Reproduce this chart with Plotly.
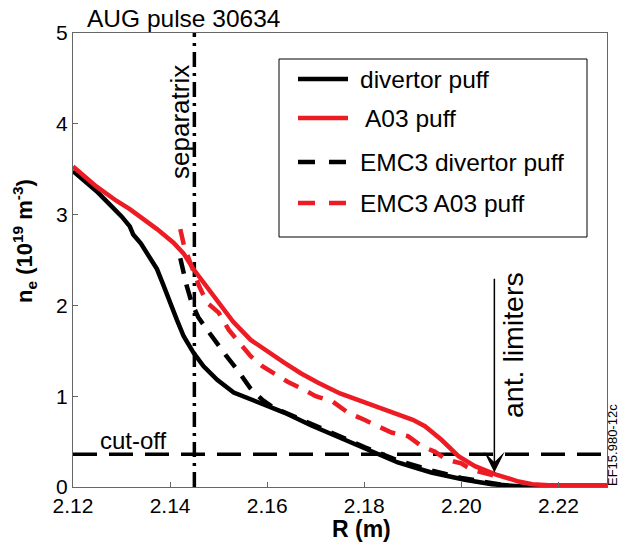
import plotly.graph_objects as go

# ---- data ----
R_div = [2.120, 2.1225, 2.1248, 2.1276, 2.1300, 2.1317, 2.1324, 2.1340, 2.1355, 2.1373, 2.1385,
         2.1400, 2.1414, 2.1428, 2.1440, 2.1448, 2.1469, 2.1497, 2.1531, 2.1560, 2.1587, 2.1635,
         2.1690, 2.1745, 2.1800, 2.1869, 2.1938, 2.2007, 2.2063, 2.2104, 2.2140, 2.2180]
ne_div = [3.48, 3.37, 3.26, 3.11, 2.98, 2.87, 2.78, 2.68, 2.56, 2.40, 2.24,
          2.02, 1.84, 1.66, 1.55, 1.48, 1.33, 1.18, 1.04, 0.98, 0.93, 0.82,
          0.68, 0.55, 0.42, 0.27, 0.16, 0.08, 0.03, 0.01, 0.0, 0.0]

R_a03 = [2.120, 2.1248, 2.1290, 2.1317, 2.1345, 2.1373, 2.1407, 2.1428, 2.1448, 2.1469, 2.1504,
         2.1530, 2.1566, 2.1600, 2.1635, 2.1670, 2.1704, 2.1750, 2.1800, 2.1840, 2.1869, 2.1900,
         2.1925, 2.1959, 2.1994, 2.2028, 2.2070, 2.2118, 2.2146, 2.2180, 2.2310]
ne_a03 = [3.53, 3.31, 3.15, 3.06, 2.95, 2.84, 2.69, 2.57, 2.40, 2.25, 2.00,
          1.82, 1.62, 1.49, 1.37, 1.25, 1.15, 1.03, 0.93, 0.86, 0.80, 0.74,
          0.67, 0.52, 0.34, 0.23, 0.14, 0.06, 0.03, 0.02, 0.02]

R_emc_div = [2.1421, 2.1426, 2.1434, 2.1445, 2.1458, 2.1475, 2.1495, 2.1515, 2.1540, 2.1565, 2.1590,
             2.1614, 2.1650, 2.1700, 2.1750, 2.1800, 2.1870, 2.1940, 2.2000, 2.2060, 2.2100]
ne_emc_div = [2.52, 2.38, 2.22, 2.02, 1.87, 1.74, 1.59, 1.45, 1.28, 1.09, 0.96,
              0.87, 0.79, 0.67, 0.56, 0.44, 0.29, 0.18, 0.10, 0.04, 0.01]

R_emc_a03 = [2.1421, 2.1425, 2.1429, 2.1445, 2.1460, 2.1476, 2.1500, 2.1521, 2.1542, 2.1566, 2.1590,
             2.1618, 2.1642, 2.1669, 2.1700, 2.1735, 2.1766, 2.1800, 2.1828, 2.1856, 2.1890, 2.1918,
             2.1945, 2.1970, 2.2000, 2.2021, 2.2050, 2.2080]
ne_emc_a03 = [2.84, 2.74, 2.65, 2.42, 2.21, 2.03, 1.92, 1.73, 1.59, 1.44, 1.33,
              1.24, 1.16, 1.09, 1.00, 0.94, 0.82, 0.74, 0.67, 0.60, 0.56, 0.45,
              0.39, 0.30, 0.26, 0.19, 0.15, 0.11]

separatrix_R = 2.145
cutoff_ne = 0.36
limiter_R = 2.2068
limiter_arrow_top = 2.31
limiter_arrow_tip = 0.16

x_ticks = [2.12, 2.14, 2.16, 2.18, 2.20, 2.22]
x_ticktext = ["2.12", "2.14", "2.16", "2.18", "2.20", "2.22"]
y_ticks = [0, 1, 2, 3, 4, 5]

legend_labels = ["divertor puff", "A03 puff", "EMC3 divertor puff", "EMC3 A03 puff"]

RED = "#ED1C24"
BLACK = "#000000"
FONT = "Liberation Sans, Arial, Helvetica, sans-serif"

fig = go.Figure()

# reference lines
fig.add_trace(go.Scatter(x=[separatrix_R, separatrix_R], y=[0, 5], mode="lines",
                         line=dict(color=BLACK, width=3.5, dash="15px,6px,3px,6px"),
                         hoverinfo="skip", showlegend=False))
fig.add_trace(go.Scatter(x=[2.12, 2.23], y=[cutoff_ne, cutoff_ne], mode="lines",
                         line=dict(color=BLACK, width=3.5, dash="24px,12px"),
                         hoverinfo="skip", showlegend=False))

# data
fig.add_trace(go.Scatter(x=R_emc_div, y=ne_emc_div, mode="lines",
                         line=dict(color=BLACK, width=4.5, dash="16px,11px"), showlegend=False))
fig.add_trace(go.Scatter(x=R_div, y=ne_div, mode="lines",
                         line=dict(color=BLACK, width=4.5), showlegend=False))
fig.add_trace(go.Scatter(x=R_emc_a03, y=ne_emc_a03, mode="lines",
                         line=dict(color=RED, width=4.5, dash="16px,11px"), showlegend=False))
fig.add_trace(go.Scatter(x=R_a03, y=ne_a03, mode="lines",
                         line=dict(color=RED, width=4.5), showlegend=False))

# plot area geometry (pixels)
L, Rm, T, B = 73, 13, 33, 57
W, H = 620, 544
PW, PH = W - L - Rm, H - T - B


def px(xp):
    return (xp - L) / PW


def py(yp):
    return (H - B - yp) / PH


shapes = []
annotations = []

# custom legend
shapes.append(dict(type="rect", xref="paper", yref="paper", x0=px(279), x1=px(587),
                   y0=py(237), y1=py(59), line=dict(color=BLACK, width=1), fillcolor="white"))
leg_rows = [79, 118, 162, 203]
leg_styles = [(BLACK, "solid"), (RED, "solid"), (BLACK, "17px,14px"), (RED, "17px,14px")]
leg_text_x = [358, 363, 358, 358]
for row, (col, dash), lab, tx in zip(leg_rows, leg_styles, legend_labels, leg_text_x):
    shapes.append(dict(type="line", xref="paper", yref="paper", x0=px(298), x1=px(348),
                       y0=py(row), y1=py(row), line=dict(color=col, width=4.5, dash=dash)))
    annotations.append(dict(xref="paper", yref="paper", x=px(tx), y=py(row), text=lab,
                            showarrow=False, xanchor="left", yanchor="middle",
                            font=dict(family=FONT, size=24.5, color=BLACK)))

# text labels
annotations += [
    dict(xref="paper", yref="paper", x=px(85), y=py(18), text="AUG pulse 30634", showarrow=False,
         xanchor="left", yanchor="middle", font=dict(family=FONT, size=24.5, color=BLACK)),
    dict(xref="paper", yref="paper", x=px(180), y=py(122), text="separatrix", textangle=-90,
         showarrow=False, xanchor="center", yanchor="middle",
         font=dict(family=FONT, size=26, color=BLACK)),
    dict(xref="paper", yref="paper", x=px(133), y=py(440), text="cut-off", showarrow=False,
         xanchor="center", yanchor="middle", font=dict(family=FONT, size=24, color=BLACK)),
    dict(xref="paper", yref="paper", x=px(513), y=py(345), text="ant. limiters", textangle=-90,
         showarrow=False, xanchor="center", yanchor="middle",
         font=dict(family=FONT, size=28.5, color=BLACK)),
    dict(xref="paper", yref="paper", x=px(612), y=py(445), text="EF15.980-12c", textangle=-90,
         showarrow=False, xanchor="center", yanchor="middle",
         font=dict(family=FONT, size=13, color=BLACK)),
    dict(xref="paper", yref="paper", x=px(361), y=py(529), text="<b>R (m)</b>", showarrow=False,
         xanchor="center", yanchor="middle", font=dict(family=FONT, size=23, color=BLACK)),
    dict(xref="paper", yref="paper", x=px(24), y=py(241),
         text="<b>n<sub>e</sub> (10<sup>19</sup> m<sup>-3</sup>)</b>", textangle=-90,
         showarrow=False, xanchor="center", yanchor="middle",
         font=dict(family=FONT, size=22, color=BLACK)),
    dict(x=limiter_R, y=limiter_arrow_tip, ax=limiter_R, ay=limiter_arrow_top,
         xref="x", yref="y", axref="x", ayref="y", text="", showarrow=True,
         arrowhead=3, arrowsize=2.3, arrowwidth=1.5, arrowcolor=BLACK, standoff=0),
]

fig.update_layout(
    width=W, height=H,
    margin=dict(l=L, r=Rm, t=T, b=B, pad=0),
    paper_bgcolor="white", plot_bgcolor="white",
    showlegend=False,
    shapes=shapes, annotations=annotations,
    font=dict(family=FONT, size=21, color=BLACK),
)
fig.update_xaxes(range=[2.12, 2.23], tickvals=x_ticks, ticktext=x_ticktext, ticks="inside",
                 ticklen=5, tickcolor="#666", showline=True, linecolor="#666", linewidth=1,
                 mirror=True, showgrid=False, zeroline=False,
                 tickfont=dict(family=FONT, size=21, color=BLACK))
fig.update_yaxes(range=[0, 5], tickvals=y_ticks, ticks="inside", ticklen=5, tickcolor="#666",
                 showline=True, linecolor="#666", linewidth=1, mirror=True, showgrid=False,
                 zeroline=False, tickfont=dict(family=FONT, size=21, color=BLACK))

fig.write_html("out.html", config={"displayModeBar": False},
               post_script="document.body.style.margin='0';")
